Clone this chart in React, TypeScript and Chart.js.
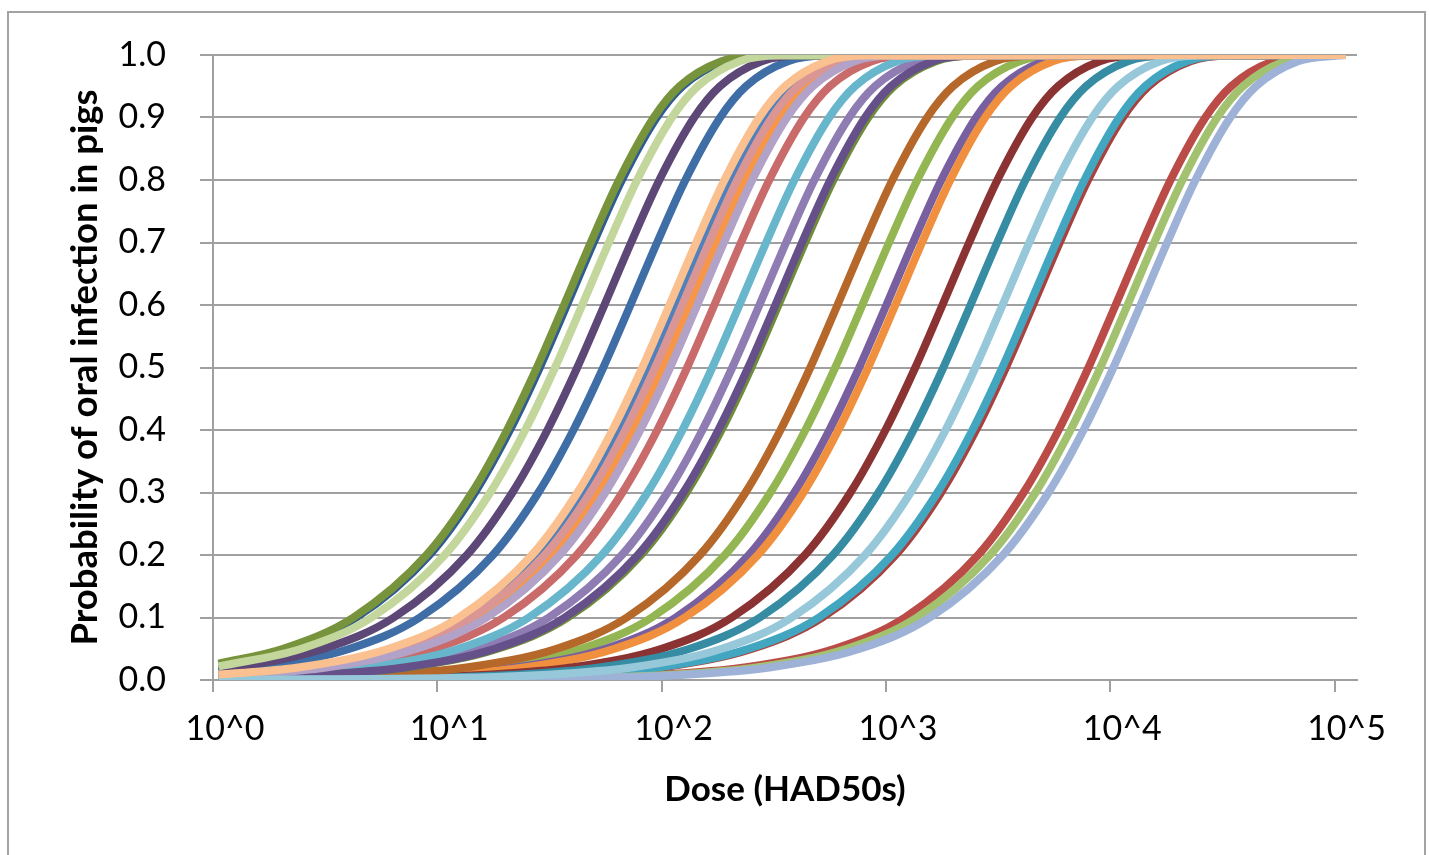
import { useEffect, useRef } from "react";
import { Chart, registerables } from "chart.js";

Chart.register(...registerables);

const probLevels = [0.005, 0.01, 0.02, 0.05, 0.1, 0.2, 0.3, 0.4, 0.5, 0.6, 0.7, 0.8, 0.9, 0.95, 0.99, 0.999];
const startLogDose = 0.025;
const endLogDose = 5.05;
const xTickValues = [0, 1, 2, 3, 4, 5];
const yTickValues = [0, 0.1, 0.2, 0.3, 0.4, 0.5, 0.6, 0.7, 0.8, 0.9, 1.0];

// log10(dose) where each curve crosses probLevels (null = left of the axis)
const curveBlue = [null, null, 0.205, 0.609, 0.922, 1.248, 1.451, 1.607, 1.740, 1.861, 1.980, 2.106, 2.261, 2.376, 2.563, 2.739];
const curveRed = [1.762, 2.064, 2.368, 2.772, 3.085, 3.411, 3.614, 3.770, 3.903, 4.024, 4.143, 4.269, 4.424, 4.539, 4.726, 4.902];
const curveGreen = [0.633, 0.935, 1.239, 1.643, 1.956, 2.282, 2.485, 2.641, 2.774, 2.895, 3.014, 3.140, 3.295, 3.410, 3.597, 3.773];
const curvePurple = [0.740, 1.042, 1.346, 1.750, 2.063, 2.389, 2.592, 2.748, 2.881, 3.002, 3.121, 3.247, 3.402, 3.517, 3.704, 3.880];
const curveThinRed = [1.394, 1.696, 2.000, 2.404, 2.717, 3.043, 3.246, 3.402, 3.535, 3.656, 3.775, 3.901, 4.056, 4.171, 4.358, 4.534];
const curveCyan = [1.378, 1.680, 1.984, 2.388, 2.701, 3.027, 3.230, 3.386, 3.519, 3.640, 3.759, 3.885, 4.040, 4.155, 4.342, 4.518];
const curveOrange = [0.780, 1.082, 1.386, 1.790, 2.103, 2.429, 2.632, 2.788, 2.921, 3.042, 3.161, 3.287, 3.442, 3.557, 3.744, 3.920];
const curveThinNavy = [null, null, null, 0.326, 0.639, 0.965, 1.168, 1.324, 1.457, 1.578, 1.697, 1.823, 1.978, 2.093, 2.280, 2.456];
const curveDarkRed = [0.990, 1.292, 1.596, 2.000, 2.313, 2.639, 2.842, 2.998, 3.131, 3.252, 3.371, 3.497, 3.652, 3.767, 3.954, 4.130];
const curveOlive = [null, null, null, 0.313, 0.626, 0.952, 1.155, 1.311, 1.444, 1.565, 1.684, 1.810, 1.965, 2.080, 2.267, 2.443];
const curveDarkPurple = [null, null, 0.089, 0.493, 0.806, 1.132, 1.335, 1.491, 1.624, 1.745, 1.864, 1.990, 2.145, 2.260, 2.447, 2.623];
const curveTeal = [1.115, 1.417, 1.721, 2.125, 2.438, 2.764, 2.967, 3.123, 3.256, 3.377, 3.496, 3.622, 3.777, 3.892, 4.079, 4.255];
const curveBrown = [0.522, 0.824, 1.128, 1.532, 1.845, 2.171, 2.374, 2.530, 2.663, 2.784, 2.903, 3.029, 3.184, 3.299, 3.486, 3.662];
const curveThinBlue = [null, 0.106, 0.410, 0.814, 1.127, 1.453, 1.656, 1.812, 1.945, 2.066, 2.185, 2.311, 2.466, 2.581, 2.768, 2.944];
const curveSalmon = [null, 0.275, 0.579, 0.983, 1.296, 1.622, 1.825, 1.981, 2.114, 2.235, 2.354, 2.480, 2.635, 2.750, 2.937, 3.113];
const curveLightGreen2 = [1.815, 2.117, 2.421, 2.825, 3.138, 3.464, 3.667, 3.823, 3.956, 4.077, 4.196, 4.322, 4.477, 4.592, 4.779, 4.955];
const curveLightPurple = [0.174, 0.476, 0.780, 1.184, 1.497, 1.823, 2.026, 2.182, 2.315, 2.436, 2.555, 2.681, 2.836, 2.951, 3.138, 3.314];
const curveSky = [0.085, 0.387, 0.691, 1.095, 1.408, 1.734, 1.937, 2.093, 2.226, 2.347, 2.466, 2.592, 2.747, 2.862, 3.049, 3.225];
const curveThinOrange = [null, 0.164, 0.468, 0.872, 1.185, 1.511, 1.714, 1.870, 2.003, 2.124, 2.243, 2.369, 2.524, 2.639, 2.826, 3.002];
const curveThinOlive = [0.259, 0.561, 0.865, 1.269, 1.582, 1.908, 2.111, 2.267, 2.400, 2.521, 2.640, 2.766, 2.921, 3.036, 3.223, 3.399];
const curveDarkPurple2 = [0.245, 0.547, 0.851, 1.255, 1.568, 1.894, 2.097, 2.253, 2.386, 2.507, 2.626, 2.752, 2.907, 3.022, 3.209, 3.385];
const curveSteel = [1.873, 2.175, 2.479, 2.883, 3.196, 3.522, 3.725, 3.881, 4.014, 4.135, 4.254, 4.380, 4.535, 4.650, 4.837, 5.013];
const curvePink = [null, 0.132, 0.436, 0.840, 1.153, 1.479, 1.682, 1.838, 1.971, 2.092, 2.211, 2.337, 2.492, 2.607, 2.794, 2.970];
const curveLightGreen = [null, null, null, 0.394, 0.707, 1.033, 1.236, 1.392, 1.525, 1.646, 1.765, 1.891, 2.046, 2.161, 2.348, 2.524];
const curveLavender = [null, 0.199, 0.503, 0.907, 1.220, 1.546, 1.749, 1.905, 2.038, 2.159, 2.278, 2.404, 2.559, 2.674, 2.861, 3.037];
const curveLightBlue = [1.258, 1.560, 1.864, 2.268, 2.581, 2.907, 3.110, 3.266, 3.399, 3.520, 3.639, 3.765, 3.920, 4.035, 4.222, 4.398];
const curvePeach = [null, 0.075, 0.379, 0.783, 1.096, 1.422, 1.625, 1.781, 1.914, 2.035, 2.154, 2.280, 2.435, 2.550, 2.737, 2.913];

// probability at the first dose plotted (left end of every curve), same order as curveList
const startProbs = [
  0.0133, 0.0001, 0.0012, 0.001, 0.0002, 0.0002, 0.0009, 0.0253, 0.0005, 0.0261,
  0.0173, 0.0004, 0.0016, 0.0083, 0.0056, 0.0001, 0.0036, 0.0044, 0.0073, 0.0029,
  0.003, 0.0001, 0.0078, 0.0217, 0.0067, 0.0003, 0.0089,
];

// drawing order: first = bottom, last = top
const curveList = [
  curveBlue, curveRed, curveGreen, curvePurple, curveThinRed, curveCyan, curveOrange,
  curveThinNavy, curveDarkRed, curveOlive, curveDarkPurple, curveTeal, curveBrown,
  curveThinBlue, curveSalmon, curveLightGreen2, curveLightPurple, curveSky,
  curveThinOrange, curveThinOlive, curveDarkPurple2, curveSteel, curvePink,
  curveLightGreen, curveLavender, curveLightBlue, curvePeach,
];

const curveColors = [
  "#3F6DA6", "#BA4B47", "#93B653", "#7860A0", "#A8423F", "#43A6C0", "#F0903E",
  "#2F5D91", "#8A3332", "#77933C", "#5C4776", "#358CA3", "#B5682A",
  "#4F81BD", "#C96B6B", "#A3C26F", "#8E7CB3", "#68B6CB",
  "#F79646", "#6F8C3A", "#66508A", "#9DB2D6", "#D99694",
  "#C3D69B", "#B3A2C7", "#96C8DA", "#FAC090",
];

const FONT = "Lato, 'Open Sans', sans-serif";
const GRID = "#a0a0a0";

export default function App() {
  const canvasRef = useRef<HTMLCanvasElement | null>(null);

  useEffect(() => {
    const canvas = canvasRef.current;
    if (!canvas) return;

    const datasets = curveList.map((crossings, i) => {
      const pts: { x: number; y: number }[] = [{ x: startLogDose, y: startProbs[i] }];
      crossings.forEach((x, k) => {
        if (x !== null && x > startLogDose && x < endLogDose) pts.push({ x, y: probLevels[k] });
      });
      pts.push({ x: endLogDose, y: 1 });
      return {
        data: pts,
        borderColor: curveColors[i],
        backgroundColor: curveColors[i],
        borderWidth: 8,
        pointRadius: 0,
        fill: false,
        cubicInterpolationMode: "monotone" as const,
        borderJoinStyle: "round" as const,
        order: curveList.length - i,
      };
    });

    const chart = new Chart(canvas, {
      type: "line",
      data: { datasets },
      options: {
        animation: false,
        responsive: false,
        devicePixelRatio: 1,
        parsing: false,
        layout: { padding: { left: 0, top: 55, right: 72, bottom: 0 } },
        plugins: { legend: { display: false }, tooltip: { enabled: false } },
        scales: {
          x: {
            type: "linear",
            min: 0,
            max: 5.1,
            afterBuildTicks: (scale: any) => {
              scale.ticks = xTickValues.map((v) => ({ value: v }));
            },
            afterFit: (scale: any) => {
              scale.height = 175;
            },
            ticks: {
              autoSkip: false,
              maxRotation: 0,
              padding: 17,
              labelOffset: 12,
              color: "#000",
              font: { family: FONT, size: 34 },
              callback: (v: any) => "10^" + v,
            },
            grid: { drawOnChartArea: false, drawTicks: true, tickLength: 12, color: GRID, lineWidth: 2 },
            border: { color: GRID, width: 2 },
            title: {
              display: true,
              text: "Dose (HAD50s)",
              color: "#000",
              font: { family: FONT, size: 35, weight: "bold" },
              padding: { top: 0, bottom: 44 },
            },
          },
          y: {
            type: "linear",
            min: 0,
            max: 1,
            afterBuildTicks: (scale: any) => {
              scale.ticks = yTickValues.map((v) => ({ value: v }));
            },
            afterFit: (scale: any) => {
              scale.width = 213;
            },
            ticks: {
              padding: 34,
              color: "#000",
              font: { family: FONT, size: 34 },
              callback: (v: any) => Number(v).toFixed(1),
            },
            grid: { color: GRID, lineWidth: 2, tickLength: 13 },
            border: { color: GRID, width: 2 },
            title: {
              display: true,
              text: "Probability of oral infection in pigs",
              color: "#000",
              font: { family: FONT, size: 36.5, weight: "bold" },
              padding: { top: 63, bottom: 0 },
            },
          },
        },
      },
    });

    return () => chart.destroy();
  }, []);

  return (
    <div style={{ position: "fixed", left: 0, top: 0, width: 1429, height: 855, overflow: "hidden", background: "#fff" }}>
      <div
        style={{
          position: "absolute",
          left: 7,
          top: 11,
          width: 1419,
          height: 900,
          boxSizing: "border-box",
          border: "2px solid #a3a3a3",
        }}
      />
      <canvas
        ref={canvasRef}
        width={1429}
        height={855}
        style={{ position: "absolute", left: 0, top: 0, width: 1429, height: 855 }}
      />
    </div>
  );
}
